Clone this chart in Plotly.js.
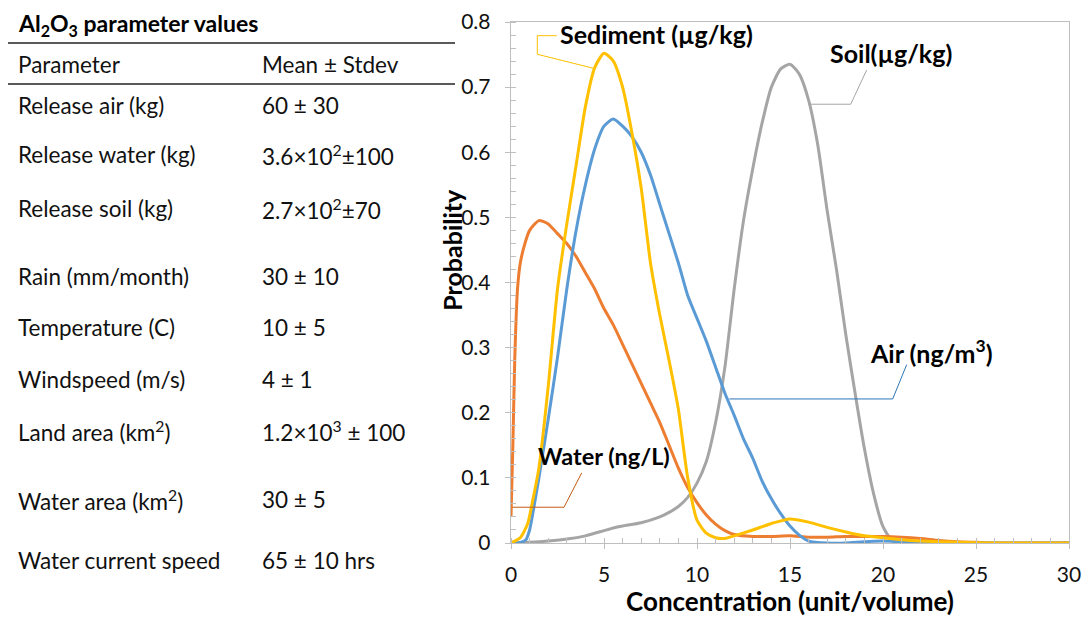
<!DOCTYPE html>
<html>
<head>
<meta charset="utf-8">
<script src="https://cdn.plot.ly/plotly-3.0.1.min.js"></script>
<style>html,body{margin:0;padding:0;background:#fff;}#chart{width:1082px;height:617px;}</style>
</head>
<body>
<div id="chart"></div>
<script>
// ---------- data ----------
const sedimentX = [0, 0.5, 0.9, 1.2, 1.5, 2, 2.5, 3, 3.5, 4, 4.5, 5, 5.5, 6, 6.5, 7, 7.5, 8, 8.5, 9, 9.5, 10, 10.5, 11, 11.5, 12, 13, 14, 15, 16, 17, 18, 19, 20, 21, 22, 24, 26, 30];
const sedimentY = [0, 0.008, 0.03, 0.07, 0.115, 0.24, 0.39, 0.49, 0.58, 0.67, 0.73, 0.752, 0.74, 0.70, 0.63, 0.545, 0.43, 0.35, 0.28, 0.205, 0.10, 0.035, 0.015, 0.008, 0.007, 0.011, 0.02, 0.03, 0.037, 0.032, 0.024, 0.017, 0.011, 0.008, 0.005, 0.003, 0.001, 0, 0];

const airX = [0, 0.5, 0.8, 1, 1.2, 1.5, 2, 2.5, 3, 3.5, 4, 4.5, 5, 5.5, 6, 6.5, 7, 7.5, 8, 8.5, 9, 9.5, 10, 10.5, 11, 11.5, 12, 12.5, 13, 13.5, 14, 14.5, 15, 15.5, 16, 17, 18, 19, 20, 21, 22, 24, 30];
const airY = [0, 0.001, 0.005, 0.02, 0.05, 0.10, 0.19, 0.285, 0.39, 0.48, 0.55, 0.605, 0.64, 0.651, 0.64, 0.624, 0.60, 0.565, 0.52, 0.475, 0.43, 0.38, 0.345, 0.31, 0.27, 0.23, 0.196, 0.16, 0.13, 0.095, 0.068, 0.045, 0.026, 0.012, 0.003, 0, 0, 0.002, 0.003, 0.002, 0.001, 0, 0];

const waterX = [0, 0.1, 0.2, 0.35, 0.5, 0.75, 1, 1.5, 2, 2.5, 3, 3.5, 4, 4.5, 5, 5.5, 6, 6.5, 7, 7.5, 8, 8.5, 9, 9.5, 10, 10.5, 11, 11.5, 12, 13, 14, 15, 16, 17, 18, 19, 20, 21, 22, 23, 24, 25, 26, 30];
const waterY = [0.04, 0.15, 0.28, 0.39, 0.43, 0.46, 0.48, 0.495, 0.49, 0.475, 0.46, 0.44, 0.415, 0.39, 0.36, 0.335, 0.305, 0.275, 0.245, 0.215, 0.185, 0.15, 0.115, 0.085, 0.062, 0.043, 0.029, 0.019, 0.013, 0.01, 0.01, 0.011, 0.009, 0.009, 0.01, 0.01, 0.01, 0.009, 0.007, 0.004, 0.002, 0.001, 0, 0];

const soilX = [0, 1, 2, 3, 4, 5, 5.5, 6, 7, 8, 8.5, 9, 9.5, 10, 10.5, 11, 11.5, 12, 12.5, 13, 13.5, 14, 14.5, 15, 15.5, 16, 16.5, 17, 17.5, 18, 18.5, 19, 19.5, 20, 20.5, 21, 30];
const soilY = [0, 0.001, 0.003, 0.006, 0.011, 0.019, 0.023, 0.026, 0.031, 0.04, 0.047, 0.056, 0.07, 0.092, 0.125, 0.185, 0.27, 0.39, 0.495, 0.575, 0.645, 0.70, 0.728, 0.735, 0.72, 0.68, 0.61, 0.51, 0.42, 0.32, 0.23, 0.145, 0.075, 0.025, 0.003, 0, 0];

const seriesNames = ["Sediment (µg/kg)", "Soil(µg/kg)", "Air (ng/m<sup>3</sup>)", "Water (ng/L)"];

const tableTitle = "Al<sub>2</sub>O<sub>3</sub> parameter values";
const tableHeader = ["Parameter", "Mean ± Stdev"];
const paramNames = ["Release air (kg)", "Release water (kg)", "Release soil (kg)", "Rain (mm/month)", "Temperature (C)", "Windspeed (m/s)", "Land area (km<sup>2</sup>)", "Water area (km<sup>2</sup>)", "Water current speed"];
const paramValues = ["60 ± 30", "3.6×10<sup>2</sup>±100", "2.7×10<sup>2</sup>±70", "30 ± 10", "10 ± 5", "4 ± 1", "1.2×10<sup>3</sup> ± 100", "30 ± 5", "65 ± 10 hrs"];

// ---------- layout helpers ----------
const L = 511, R = 1069, T = 22, B = 543.5;
const px = x => (x - L) / (R - L);
const py = y => (B - y) / (B - T);
const rowY = [106, 155, 209, 277, 328, 380, 431, 500, 561];
const FONT = "Lato, 'Open Sans', sans-serif";
const colors = {sed: "#FFC000", air: "#5B9BD5", water: "#ED7D31", soil: "#A5A5A5"};

const mk = (x, y, c, name) => ({x, y, name, type: "scatter", mode: "lines",
  line: {color: c, width: 3, shape: "spline", smoothing: 0.6}, hoverinfo: "x+y"});

const traces = [
  mk(soilX, soilY, colors.soil, "Soil"),
  mk(waterX, waterY, colors.water, "Water"),
  mk(airX, airY, colors.air, "Air"),
  mk(sedimentX, sedimentY, colors.sed, "Sediment")
];

const annotations = [];
const shapes = [];
const TXT = 22.5;
// table
annotations.push({xref: "paper", yref: "paper", x: px(16), y: py(25), xanchor: "left", yanchor: "middle",
  text: "<b>" + tableTitle + "</b>", showarrow: false, font: {family: FONT, size: 23, color: "#000"}});
annotations.push({xref: "paper", yref: "paper", x: px(16), y: py(65), xanchor: "left", yanchor: "middle",
  text: tableHeader[0], showarrow: false, font: {family: FONT, size: TXT, color: "#111"}});
annotations.push({xref: "paper", yref: "paper", x: px(260), y: py(65), xanchor: "left", yanchor: "middle",
  text: tableHeader[1], showarrow: false, font: {family: FONT, size: TXT, color: "#111"}});
paramNames.forEach((p, i) => {
  annotations.push({xref: "paper", yref: "paper", x: px(16), y: py(rowY[i]), xanchor: "left", yanchor: "middle",
    text: p, showarrow: false, font: {family: FONT, size: TXT, color: "#111"}});
  annotations.push({xref: "paper", yref: "paper", x: px(260), y: py(rowY[i]), xanchor: "left", yanchor: "middle",
    text: paramValues[i], showarrow: false, font: {family: FONT, size: TXT, color: "#111"}});
});
[43, 84].forEach(yy => shapes.push({type: "line", xref: "paper", yref: "paper", x0: px(8), x1: px(455), y0: py(yy), y1: py(yy),
  line: {color: "#222", width: 1.6}}));

// y title
annotations.push({xref: "paper", yref: "paper", x: px(452), y: py(250), xanchor: "center", yanchor: "middle",
  text: "<b>Probability</b>", textangle: -90, showarrow: false, font: {family: FONT, size: 25, color: "#000"}});

// series labels with leader lines (paper pixel positions)
const labelPos = [[558, 34], [828, 53], [868, 352], [536, 456]];
const labelSize = [25, 25, 25, 23.5];
seriesNames.forEach((n, i) => {
  annotations.push({xref: "paper", yref: "paper", x: px(labelPos[i][0]), y: py(labelPos[i][1]), xanchor: "left", yanchor: "middle",
    text: "<b>" + n + "</b>", showarrow: false, font: {family: FONT, size: labelSize[i], color: "#000"}});
});
const leaders = [
  [[556.7, 35.7], [537.3, 35.7], [537.3, 54.3], [593.3, 68.3], colors.sed],
  [[866.7, 70], [850.7, 104.3], [808.3, 104.3], null, "#A5A5A5"],
  [[906.7, 365], [892.7, 399.3], [729.3, 399.3], null, "#2E75B6"],
  [[581.7, 473.3], [564, 507.7], [512.3, 507.7], null, "#C55A11"]
];
leaders.forEach(ld => {
  const pts = ld.slice(0, 4).filter(p => p);
  let path = "M " + pts.map(p => px(p[0]) + "," + py(p[1])).join(" L ");
  shapes.push({type: "path", xref: "paper", yref: "paper", path, line: {color: ld[4], width: 1}});
});

const axisCommon = {showline: true, linecolor: "#BFBFBF", linewidth: 1.3, mirror: true, showgrid: false, zeroline: false,
  ticks: "outside", ticklen: 5, tickcolor: "#BFBFBF", tickfont: {family: FONT, size: 21, color: "#111"}};

const layout = {
  width: 1082, height: 617,
  margin: {l: L, r: 1082 - R, t: T, b: 617 - B},
  paper_bgcolor: "#fff", plot_bgcolor: "#fff",
  showlegend: false,
  xaxis: Object.assign({}, axisCommon, {range: [0, 30], dtick: 5, tick0: 0, ticklabelstandoff: 7,
    minor: {ticks: "inside", ticklen: 5, dtick: 1, tickcolor: "#BFBFBF", showgrid: false},
    title: {text: "<b>Concentration (unit/volume)</b>", standoff: 2, font: {family: FONT, size: 26, color: "#000"}}}),
  yaxis: Object.assign({}, axisCommon, {range: [0, 0.8], dtick: 0.1, tick0: 0, ticklabelstandoff: 10,
    minor: {ticks: "inside", ticklen: 5, dtick: 0.02, tickcolor: "#BFBFBF", showgrid: false}}),
  annotations, shapes
};

Plotly.newPlot("chart", traces, layout, {displayModeBar: false, staticPlot: true});
</script>
</body>
</html>
